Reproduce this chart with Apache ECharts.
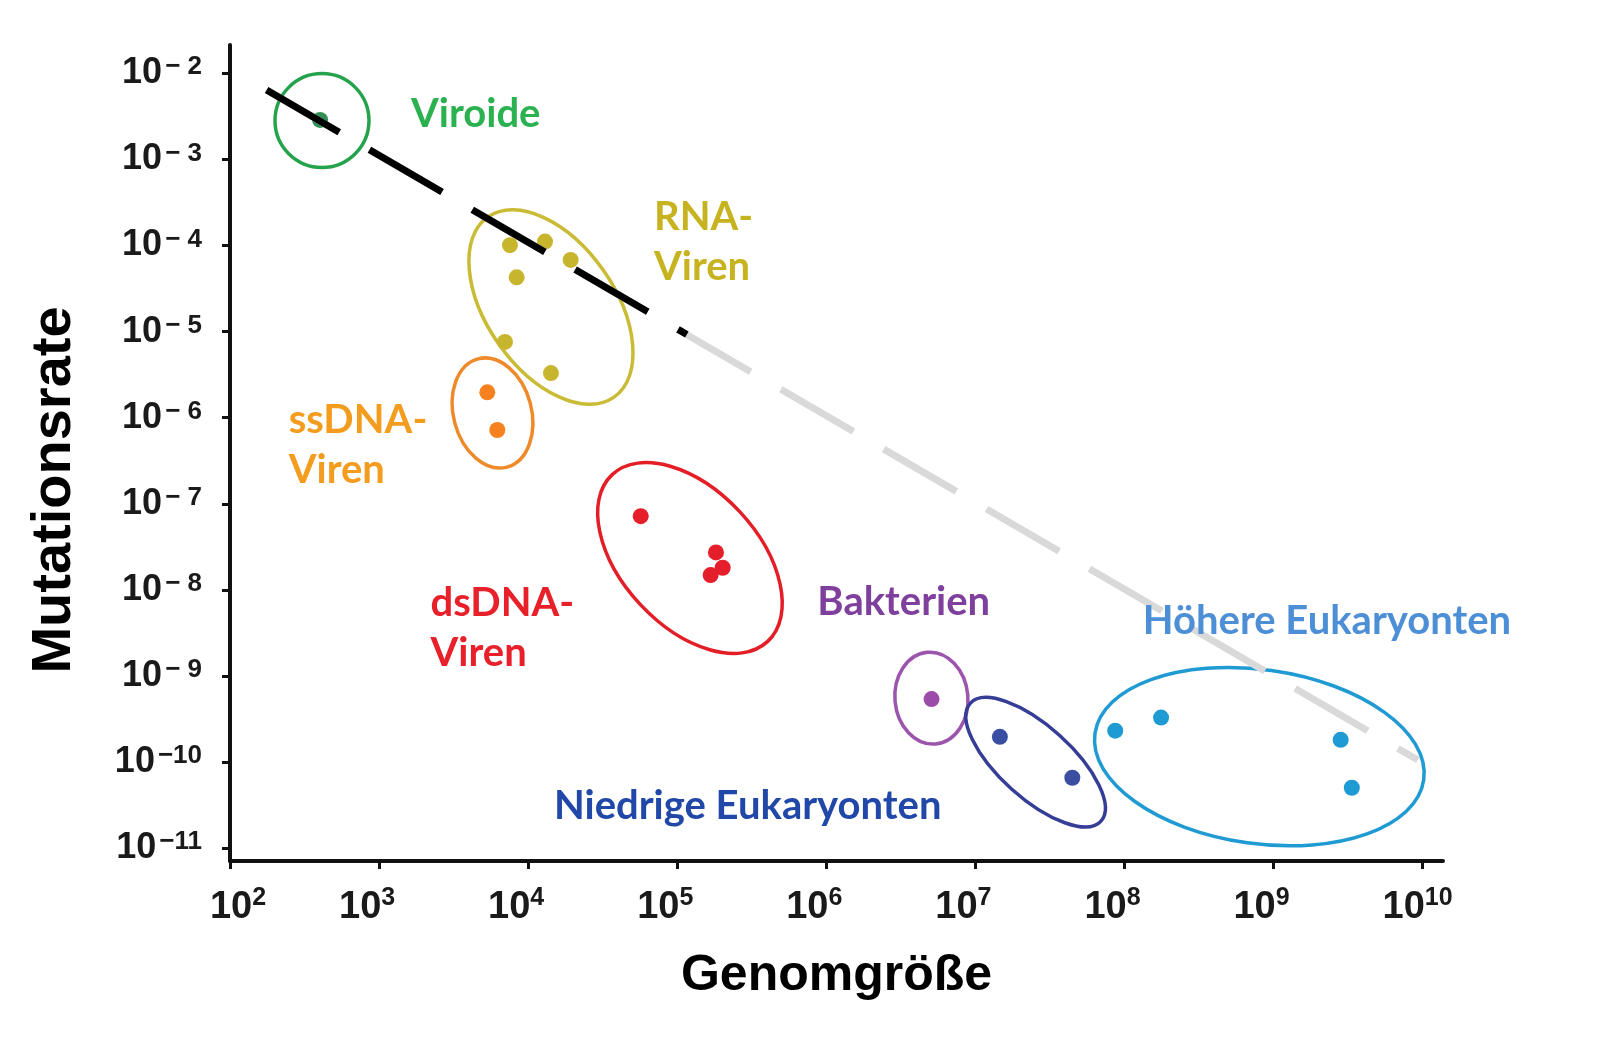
<!DOCTYPE html>
<html><head><meta charset="utf-8">
<script src="https://cdn.jsdelivr.net/npm/echarts@6/dist/echarts.min.js"></script>
<style>html,body{margin:0;padding:0;background:#fff}#c{width:1600px;height:1038px}</style>
</head><body><div id="c"></div>
<script>
// ---- data (genome size, mutation rate) ----
const viroide     = [[402, 2.87e-3]];
const rnaViren    = [[7550, 1.01e-4], [12970, 1.11e-4], [19280, 6.8e-5], [8370, 4.27e-5], [6990, 7.6e-6], [14220, 3.3e-6]];
const ssdnaViren  = [[5320, 1.97e-6], [6210, 7.2e-7]];
const dsdnaViren  = [[56900, 7.2e-8], [181900, 2.73e-8], [201700, 1.81e-8], [167500, 1.49e-8]];
const bakterien   = [[5.08e6, 5.4e-10]];
const niedrigeEuk = [[1.46e7, 1.97e-10], [4.47e7, 6.6e-11]];
const hoehereEuk  = [[8.67e7, 2.32e-10], [1.76e8, 3.3e-10], [2.82e9, 1.82e-10], [3.35e9, 5.05e-11]];
// trend line (Drake) endpoints; black part ends where highlighted segment stops
const trendLine      = [[176, 6.4e-3], [9.29e9, 1.06e-10]];
const trendBlackPart = [[176, 6.4e-3], [116000, 9.25e-6]];
// group centres (for the enclosing ellipses) and label anchors
const groupCenters = [[414, 2.82e-3], [14220, 1.93e-5], [5765, 1.135e-6], [121700, 2.35e-8], [5.07e6, 5.55e-10], [2.535e7, 1.0e-10], [8.03e8, 1.16e-10]];
const groupNames   = ['Viroide', 'RNA-\nViren', 'ssDNA-\nViren', 'dsDNA-\nViren', 'Bakterien', 'Niedrige Eukaryonten', 'Höhere Eukaryonten'];
const labelAnchors = [[1637, 3.34e-3], [69820, 1.087e-4], [247.7, 4.76e-7], [2213, 3.61e-9], [8.71e5, 7.24e-9], [14890, 3.09e-11], [1.327e8, 4.31e-9]];
const xTicks = [1e2, 1e3, 1e4, 1e5, 1e6, 1e7, 1e8, 1e9, 1e10];
const yTicks = [1e-2, 1e-3, 1e-4, 1e-5, 1e-6, 1e-7, 1e-8, 1e-9, 1e-10, 1e-11];

// ---- styles ----
const groupData   = [viroide, rnaViren, ssdnaViren, dsdnaViren, bakterien, niedrigeEuk, hoehereEuk];
const dotColors   = ['#2f8f55', '#c8b52e', '#f5821f', '#e41e2a', '#9b4ca8', '#3a4ea2', '#1f9bd4'];
const ringColors  = ['#24a24c', '#c9bb35', '#ef8a2a', '#e31e26', '#9b55ad', '#353d96', '#1f9ad3'];
const textColors  = ['#2bb150', '#c7b320', '#f39c1e', '#e8202a', '#7e3f9d', '#2148a8', '#4d8fd6'];
// ellipse shape: semi-axes (px) and clockwise screen rotation (deg)
const ringShape = [[47, 47, 0], [110, 64, 55], [56, 39, 75], [114, 68, 47], [46, 36.5, 85], [88, 36, 42], [166, 87, 8]];

const chart = echarts.init(document.getElementById('c'));
const axisFont = 'Liberation Sans, Arial, sans-serif';

function xLabel(v) {
  const e = Math.round(Math.log10(v));
  if (e === 2) return '{l| }{b|10}{s|' + e + '}';
  if (e === 10) return '{b|10}{s|' + e + '}{r2| }';
  return '{b|10}{s|' + e + '}{r| }';
}
function yLabel(v) {
  const e = -Math.round(Math.log10(v));
  return '{b|10}{g| }{s|' + (e < 10 ? '\u2212 ' + e : '\u2212' + e) + '}';
}

const series = [];
series.push({
  type: 'custom', coordinateSystem: 'cartesian2d', z: 2, silent: true, clip: false,
  data: groupCenters,
  renderItem: function (params, api) {
    const i = params.dataIndex;
    const p = api.coord([api.value(0), api.value(1)]);
    const s = ringShape[i];
    return {
      type: 'ellipse', x: p[0], y: p[1], rotation: -s[2] * Math.PI / 180,
      shape: { cx: 0, cy: 0, rx: s[0], ry: s[1] },
      style: { fill: 'none', stroke: ringColors[i], lineWidth: 3.5 }
    };
  }
});
groupData.forEach(function (d, i) {
  series.push({
    type: 'scatter', data: d, symbol: 'circle', symbolSize: 16, z: 3, silent: true,
    itemStyle: { color: dotColors[i], opacity: 1 }
  });
});
series.push({
  type: 'line', data: trendLine, symbol: 'none', z: 4, silent: true,
  lineStyle: { color: '#d9d9d9', width: 7, type: [84, 35], cap: 'butt' }
});
series.push({
  type: 'line', data: trendBlackPart, symbol: 'none', z: 5, silent: true,
  lineStyle: { color: '#000', width: 7, type: [84, 35], cap: 'butt' }
});
series.push({
  type: 'custom', coordinateSystem: 'cartesian2d', z: 6, silent: true, clip: false,
  data: labelAnchors,
  renderItem: function (params, api) {
    const i = params.dataIndex;
    const p = api.coord([api.value(0), api.value(1)]);
    return {
      type: 'text', x: p[0], y: p[1],
      style: {
        text: groupNames[i], fill: textColors[i], fontSize: 40, fontWeight: 'bold',
        fontFamily: 'Lato, sans-serif', align: 'left', verticalAlign: 'middle', lineHeight: 50
      }
    };
  }
});

chart.setOption({
  backgroundColor: '#ffffff',
  animation: false,
  grid: { left: 230, right: 157, top: 45, bottom: 177 },
  xAxis: {
    type: 'log', logBase: 10, min: 100, max: 1.37e10,
    name: 'Genomgröße', nameLocation: 'middle', nameGap: 90,
    nameTextStyle: { fontSize: 50, fontWeight: 'bold', fontFamily: axisFont, color: '#000' },
    axisLine: { lineStyle: { color: '#111', width: 4 } },
    axisTick: { customValues: xTicks, length: 8, lineStyle: { color: '#111', width: 3 } },
    axisLabel: {
      customValues: xTicks, margin: 25, formatter: xLabel,
      rich: {
        b: { fontSize: 38, fontWeight: 'bold', fontFamily: axisFont, color: '#1a1a1a', lineHeight: 44 },
        s: { fontSize: 25, fontWeight: 'bold', fontFamily: axisFont, color: '#1a1a1a', lineHeight: 25, verticalAlign: 'top' },
        l: { width: 16, fontSize: 10 }, r: { width: 24, fontSize: 10 }, r2: { width: 10, fontSize: 10 }
      }
    },
    splitLine: { show: false }
  },
  yAxis: {
    type: 'log', logBase: 10, min: 7.12e-12, max: 0.0213,
    name: 'Mutationsrate', nameLocation: 'middle', nameGap: 147, nameRotate: 90,
    nameTextStyle: { fontSize: 56, fontWeight: 'bold', fontFamily: axisFont, color: '#000', padding: [0, 74, 0, 0] },
    axisLine: { lineStyle: { color: '#111', width: 4 } },
    axisTick: { customValues: yTicks, length: 8, lineStyle: { color: '#111', width: 3 } },
    axisLabel: {
      customValues: yTicks, margin: 28, formatter: yLabel,
      rich: {
        b: { fontSize: 36, fontWeight: 'bold', fontFamily: axisFont, color: '#1a1a1a', lineHeight: 38 },
        g: { width: 3, fontSize: 10 },
        s: { fontSize: 26, fontWeight: 'bold', fontFamily: axisFont, color: '#1a1a1a', lineHeight: 26, verticalAlign: 'top' }
      }
    },
    splitLine: { show: false }
  },
  series: series
});
</script></body></html>
